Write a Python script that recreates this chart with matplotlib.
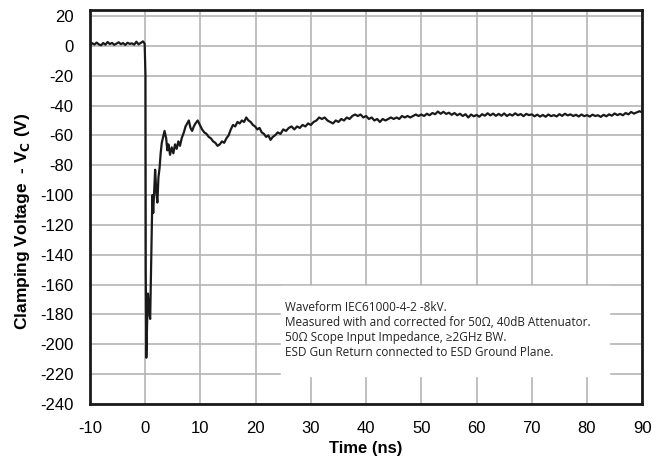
import matplotlib
matplotlib.use("Agg")
import matplotlib.pyplot as plt

# waveform samples (ns, V)
t_pre = [-10, -9.6, -9.2, -8.8, -8.4, -8.0, -7.6, -7.2, -6.8, -6.4, -6.0, -5.6, -5.2,
         -4.8, -4.4, -4.0, -3.6, -3.2, -2.8, -2.4, -2.0, -1.6, -1.2, -0.8, -0.4, -0.1]
v_pre = [0.5, 1.8, 0.9, 2.2, 1.0, 0.4, 1.9, 0.8, 2.6, 1.2, 2.0, 0.7, 1.5,
         2.4, 1.1, 1.9, 0.6, 2.1, 1.3, 1.7, 0.8, 2.8, 1.0, 2.0, 3.0, 1.5]

t_spike = [0.05, 0.1, 0.2, 0.35, 0.5, 0.7, 0.9, 1.1, 1.3, 1.45, 1.6, 1.8, 2.0, 2.2,
           2.4, 2.6, 2.8, 3.0, 3.3, 3.5, 3.8, 4.0, 4.2, 4.5, 4.8, 5.1, 5.4, 5.7,
           6.0, 6.3, 6.6, 7.0, 7.3, 7.6, 7.9, 8.2, 8.5, 8.8, 9.1, 9.5, 9.9]
v_spike = [-20, -150, -209, -185, -166, -178, -183, -140, -100, -112, -100, -83, -97, -105,
           -88, -82, -72, -65, -60, -57, -62, -70, -66, -73, -68, -72, -66, -69,
           -64, -67, -62, -58, -54, -52, -50, -55, -57, -54, -52, -50, -53]

t_ring = [10.3, 10.7, 11.1, 11.5, 11.9, 12.3, 12.7, 13.1, 13.5, 13.9, 14.3, 14.7, 15.1,
          15.5, 15.9, 16.3, 16.7, 17.1, 17.5, 17.9, 18.3, 18.7, 19.1, 19.5, 19.9, 20.3,
          20.7, 21.1, 21.5, 21.9, 22.3, 22.7, 23.1, 23.5, 24, 24.5, 25, 25.5, 26, 26.5,
          27, 27.5, 28, 28.5, 29, 29.5, 30, 30.5, 31, 31.5, 32, 32.5, 33, 33.5, 34,
          34.5, 35, 35.5, 36, 36.5, 37, 37.5, 38, 38.5, 39, 39.5, 40, 40.5, 41, 41.5,
          42, 42.5, 43, 43.5, 44, 44.5, 45, 45.5, 46, 46.5, 47, 47.5, 48, 48.5, 49, 49.5]
v_ring = [-56, -58, -59, -61, -62, -64, -65, -67, -66, -64, -65, -62, -60,
          -56, -53, -54, -51, -52, -50, -51, -48, -50, -51, -53, -54, -56,
          -55, -58, -59, -61, -60, -63, -61, -60, -58, -59, -56, -57, -55, -54,
          -56, -54, -55, -53, -54, -52, -53, -51, -50, -48, -49, -48, -50, -51, -52,
          -50, -51, -49, -50, -48, -49, -47, -46, -47, -46, -48, -47, -49, -48, -50,
          -49, -51, -49, -50, -49, -48, -49, -48, -49, -47, -48, -47, -48, -47, -46, -47]

t_tail = [50, 50.5, 51, 51.5, 52, 52.5, 53, 53.5, 54, 54.5, 55, 55.5, 56, 56.5, 57, 57.5,
          58, 58.5, 59, 59.5, 60, 60.5, 61, 61.5, 62, 62.5, 63, 63.5, 64, 64.5, 65, 65.5,
          66, 66.5, 67, 67.5, 68, 68.5, 69, 69.5, 70, 70.5, 71, 71.5, 72, 72.5, 73, 73.5,
          74, 74.5, 75, 75.5, 76, 76.5, 77, 77.5, 78, 78.5, 79, 79.5, 80, 80.5, 81, 81.5,
          82, 82.5, 83, 83.5, 84, 84.5, 85, 85.5, 86, 86.5, 87, 87.5, 88, 88.5, 89, 89.5, 90]
v_tail = [-46, -47, -45.5, -46.5, -45, -45.8, -44, -45.5, -44.2, -45.6, -44.8, -46.2, -45, -46.5, -45.5, -47,
          -45.8, -48, -46, -47.2, -46.3, -47.5, -45.8, -46.8, -45.2, -46.6, -45.4, -46.9, -45.6, -46.8, -45.3, -47,
          -45.8, -46.7, -45.2, -46.5, -45.7, -47.1, -45.6, -46.4, -45.9, -47.2, -46.1, -47.4, -46.3, -47.5, -46, -47.1,
          -46.4, -47.3, -45.8, -46.9, -45.5, -46.6, -45.9, -47, -46.2, -47.3, -46, -47.1, -46.4, -47.4, -46.1, -47,
          -46.5, -47.6, -46.2, -47.2, -45.9, -46.8, -45.3, -46.4, -45.6, -46.5, -45, -45.9, -44.3, -45.4, -44.6, -43.8, -44.5]

t = t_pre + t_spike + t_ring + t_tail
v = v_pre + v_spike + v_ring + v_tail

x_ticks = list(range(-10, 91, 10))
y_ticks = list(range(-240, 21, 20))

note = ("Waveform IEC61000-4-2 -8kV.\n"
        "Measured with and corrected for 50\u03a9, 40dB Attenuator.\n"
        "50\u03a9 Scope Input Impedance, \u22652GHz BW.\n"
        "ESD Gun Return connected to ESD Ground Plane.")

plt.rcParams['font.family'] = ['Liberation Sans', 'DejaVu Sans']
plt.rcParams['axes.unicode_minus'] = False

fig = plt.figure(figsize=(6.52, 4.57), dpi=100)
ax = fig.add_axes([0.138, 0.116, 0.847, 0.862])

ax.plot(t, v, color='#1a1a1a', lw=1.6, zorder=3)

ax.set_xlim(-10, 90)
ax.set_ylim(-240, 24)
ax.set_xticks(x_ticks)
ax.set_yticks(y_ticks)
ax.tick_params(length=0, labelsize=12)
ax.tick_params(axis='x', pad=12)
ax.tick_params(axis='y', pad=12)
ax.grid(True, color='#b4b4b4', lw=1.2, zorder=0)
ax.set_axisbelow(True)
for s in ax.spines.values():
    s.set_linewidth(2)
    s.set_color('#1a1a1a')

ax.set_xlabel('Time (ns)', fontsize=12, fontweight='bold', labelpad=4)
ax.set_ylabel('Clamping Voltage  - V$_\\mathbf{C}$ (V)', fontsize=12.5, fontweight='bold')
ax.yaxis.set_label_coords(-0.105, 0.464)

ax.fill_between([24.5, 84], -221, -161, color='white', zorder=2)
ax.text(25.3, -170.8, note, fontsize=8.5, family=['Open Sans', 'DejaVu Sans'],
        va='top', ha='left', linespacing=1.2, zorder=4, color='#222222')

fig.savefig('out.png', dpi=100)
